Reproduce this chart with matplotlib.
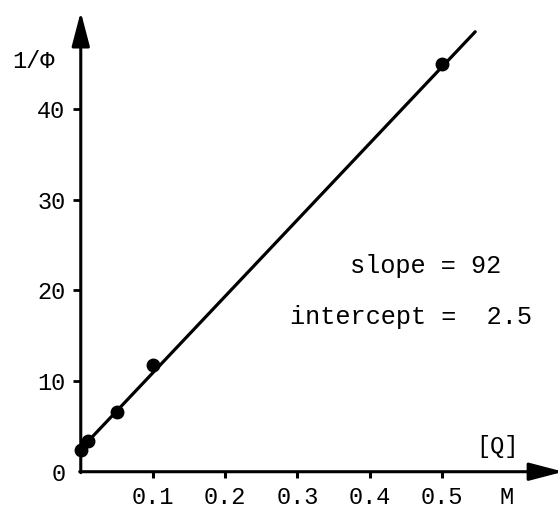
import matplotlib
matplotlib.use("Agg")
import matplotlib.pyplot as plt

# data
conc = [0.0, 0.01, 0.05, 0.10, 0.50]          # [Q] / M
inv_phi = [2.4, 3.4, 6.6, 11.8, 44.9]         # 1/Phi
fit_x = [0.0, 0.546]
fit_y = [2.5, 48.5]
xticks = [0.1, 0.2, 0.3, 0.4, 0.5, 0.59]
xticklabels = ["0.1", "0.2", "0.3", "0.4", "0.5", "M"]
yticks = [0, 10, 20, 30, 40]
yticklabels = ["0", "10", "20", "30", "40"]
slope_text = "slope = 92"
intercept_text = "intercept =  2.5"

plt.rcParams['font.family'] = ['Liberation Mono', 'DejaVu Sans Mono', 'DejaVu Sans']

fig = plt.figure(figsize=(5.58, 5.08), dpi=100)
ax = fig.add_axes([0, 0, 1, 1])
ax.set_xlim(-0.1118, 0.6606)
ax.set_ylim(-4.0, 52.0)

for s in ax.spines.values():
    s.set_visible(False)
ax.spines['left'].set_position(('data', 0))
ax.spines['bottom'].set_position(('data', 0))

# axes arrows
arrow_style = dict(arrowstyle='-|>,head_length=2.1,head_width=0.55', lw=2.2,
                   color='black', mutation_scale=10, shrinkA=0, shrinkB=0)
ax.annotate('', xy=(0, 50.7), xytext=(0, -0.1), arrowprops=arrow_style,
            annotation_clip=False)
ax.annotate('', xy=(0.668, 0), xytext=(-0.0015, 0), arrowprops=arrow_style,
            annotation_clip=False)

ax.set_xticks(xticks)
ax.set_xticklabels(xticklabels, fontsize=17)
ax.set_yticks(yticks)
ax.set_yticklabels(yticklabels, fontsize=17)
ax.tick_params(axis='x', direction='out', length=4, width=2.2, pad=6)
ax.tick_params(axis='y', direction='out', length=6, width=2, pad=5)
ax.xaxis.get_major_ticks()[-1].tick1line.set_visible(False)
ax.yaxis.get_major_ticks()[0].tick1line.set_visible(False)

ax.plot(fit_x, fit_y, color='black', lw=2.3, solid_capstyle='round', zorder=3)
ax.plot(conc, inv_phi, 'o', color='black', markersize=9, zorder=4)

ax.text(0.373, 21.9, slope_text, fontsize=18.2, ha='left', va='baseline')
ax.text(0.29, 16.3, intercept_text, fontsize=18.2, ha='left', va='baseline')
ax.text(0.548, 2.06, "[Q]", fontsize=17, ha='left', va='baseline')
ax.text(-0.095, 44.5, "1/Φ", fontsize=17, ha='left', va='baseline')

fig.savefig("out.png", dpi=100)
